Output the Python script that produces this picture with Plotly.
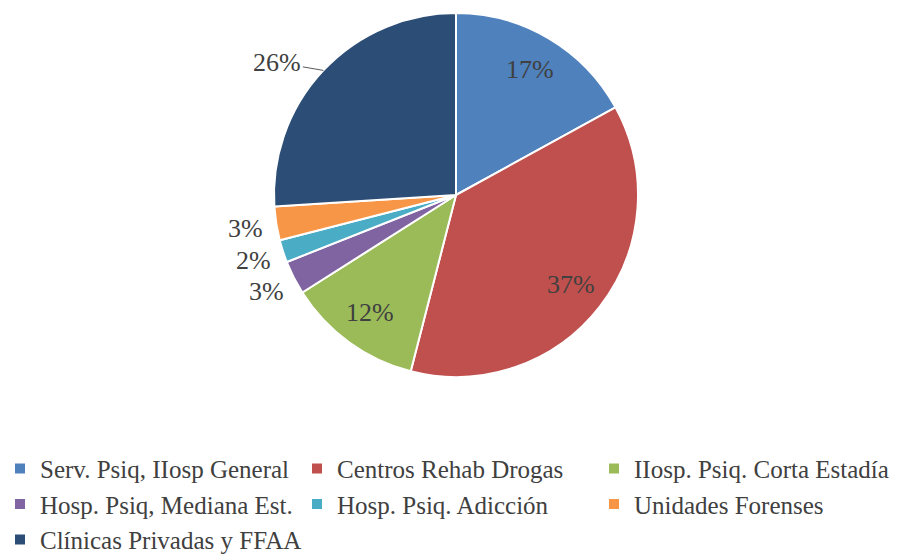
import math
import plotly.graph_objects as go

labels = [
    "Serv. Psiq, IIosp General",
    "Centros Rehab Drogas",
    "IIosp. Psiq. Corta Estadía",
    "Hosp. Psiq, Mediana Est.",
    "Hosp. Psiq. Adicción",
    "Unidades Forenses",
    "Clínicas Privadas y FFAA",
]
values = [17, 37, 12, 3, 2, 3, 26]
colors = ["#4F81BD", "#C0504D", "#9BBB59", "#8064A2", "#4BACC6", "#F79646", "#2C4D75"]
outside = [False, False, False, True, True, True, True]

W, H = 908, 560
CX, CY, R = 456, 195, 182   # pie centre / radius in pixels (from top-left)

fig = go.Figure(go.Pie(
    labels=labels,
    values=values,
    sort=False,
    direction="clockwise",
    rotation=0,
    marker={"colors": colors, "line": {"color": "white", "width": 2}},
    textinfo="none",
    hoverinfo="label+percent",
    domain={"x": [(CX - R) / W, (CX + R) / W],
            "y": [(H - CY - R) / H, (H - CY + R) / H]},
))

# percentage labels placed at the middle angle of each slice
total = sum(values)
cum = 0
for lab, v, out in zip(labels, values, outside):
    mid = (cum + v / 2) / total * 2 * math.pi
    cum += v
    rf = 1.17 if out else 0.8
    px = CX + R * rf * math.sin(mid)
    py = CY - R * rf * math.cos(mid)
    ann = dict(
        x=px / W, y=1 - py / H, xref="paper", yref="paper",
        xanchor="center", yanchor="middle",
        text=f"{v / total:.0%}", showarrow=False,
        font={"family": "Liberation Serif", "size": 26, "color": "#404040"},
    )
    if lab == labels[-1]:
        # label to the left of the rim with a short leader line
        ex = CX + R * math.sin(mid)
        ey = CY - R * math.cos(mid)
        ann.update(x=ex / W, y=1 - ey / H, showarrow=True, arrowhead=0,
                   arrowwidth=1, arrowcolor="#595959",
                   ax=-46, ay=-8)
    fig.add_annotation(**ann)

fig.update_layout(
    width=W, height=H,
    margin={"l": 0, "r": 0, "t": 0, "b": 0, "autoexpand": False},
    paper_bgcolor="white",
    plot_bgcolor="white",
    font={"family": "Liberation Serif", "color": "#404040"},
    legend={
        "orientation": "h",
        "x": 0.0, "xanchor": "left",
        "y": 0.204, "yanchor": "top",
        "entrywidth": 252,
        "font": {"size": 25, "color": "#404040"},
    },
)

fig.write_html("out.html", config={"displayModeBar": False},
               post_script="document.body.style.margin='0';")
